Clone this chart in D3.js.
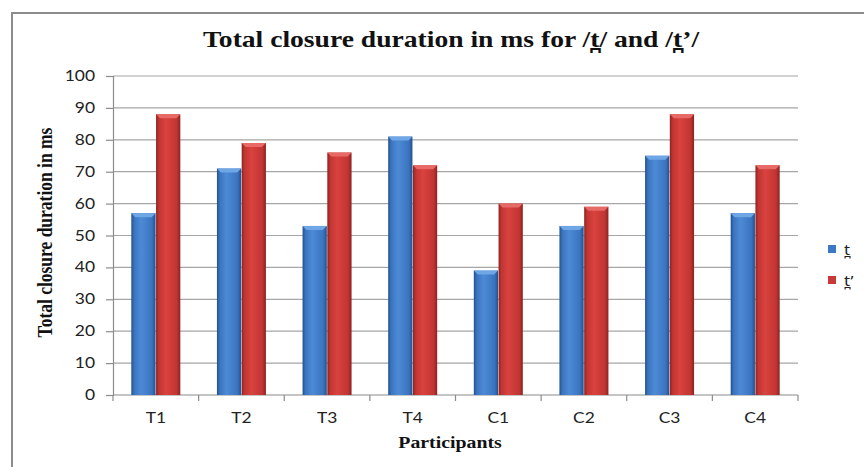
<!DOCTYPE html>
<html>
<head>
<meta charset="utf-8">
<script src="https://cdn.jsdelivr.net/npm/d3@7"></script>
<style>
  html, body { margin: 0; padding: 0; background: #fff; }
  svg { display: block; }
</style>
</head>
<body>
<svg id="chart" width="864" height="467"></svg>
<script>
// Participants and total closure durations (ms)
const participants = ["T1", "T2", "T3", "T4", "C1", "C2", "C3", "C4"];
const seriesNames = ["t\u032A", "t\u032A\u2019"];
const plainT = [57, 71, 53, 81, 39, 53, 75, 57];
const ejectiveT = [88, 79, 76, 72, 60, 59, 88, 72];
const yTicks = [0, 10, 20, 30, 40, 50, 60, 70, 80, 90, 100];

const svg = d3.select("#chart");
const W = 864, H = 467;
const plot = { left: 113, right: 798, top: 76, bottom: 395 };
const tickFont = "Lato, 'Open Sans', 'Liberation Sans', sans-serif";
const legendFont = "'Noto Sans', 'DejaVu Sans', sans-serif";
const serif = "'Liberation Serif', 'DejaVu Serif', serif";
const SX = 1.2; // text is drawn slightly wide

// Places a text at (x, y) stretched horizontally
function wideText(sel, x, y) {
  return sel.attr("transform", `translate(${x},${y}) scale(${SX},1)`).attr("x", 0).attr("y", 0);
}

// Gradients give the bars their bevelled look
const defs = svg.append("defs");
function barGradient(id, light, mid, dark) {
  const g = defs.append("linearGradient").attr("id", id)
    .attr("x1", "0%").attr("x2", "100%").attr("y1", "0%").attr("y2", "0%");
  g.append("stop").attr("offset", "0%").attr("stop-color", dark);
  g.append("stop").attr("offset", "12%").attr("stop-color", mid);
  g.append("stop").attr("offset", "40%").attr("stop-color", light);
  g.append("stop").attr("offset", "85%").attr("stop-color", mid);
  g.append("stop").attr("offset", "100%").attr("stop-color", dark);
}
barGradient("gBlue", "#4d8ad6", "#3a74bf", "#24508e");
barGradient("gRed", "#d9423f", "#c13532", "#8c2321");
const fills = ["url(#gBlue)", "url(#gRed)"];
const capFills = ["#6ea6e6", "#e86a66"];
const legendFills = ["#3b78c6", "#c83a37"];

// Outer frame
svg.append("path")
  .attr("d", `M12,${H} L12,13 L${W},13`)
  .attr("fill", "none").attr("stroke", "#8c8c8c").attr("stroke-width", 2);

// Scales
const x0 = d3.scaleBand().domain(participants).range([plot.left, plot.right]).paddingInner(0).paddingOuter(0);
const x1 = d3.scaleBand().domain([0, 1]).range([0, x0.bandwidth()]).paddingInner(0.02).paddingOuter(0.74);
const y = d3.scaleLinear().domain([0, 100]).range([plot.bottom, plot.top]);

// Horizontal gridlines
svg.append("g").selectAll("line").data(yTicks.filter(d => d > 0)).join("line")
  .attr("x1", plot.left).attr("x2", plot.right)
  .attr("y1", d => y(d)).attr("y2", d => y(d))
  .attr("stroke", "#a6a6a6").attr("stroke-width", 1.2);

// Y axis
const yAxis = svg.append("g").attr("transform", `translate(${plot.left},0)`)
  .call(d3.axisLeft(y).tickValues(yTicks).tickSize(7).tickFormat(""));
yAxis.select(".domain").attr("stroke", "#8c8c8c").attr("stroke-width", 1.2);
yAxis.selectAll(".tick line").attr("stroke", "#8c8c8c").attr("stroke-width", 1.2);
svg.append("g").selectAll("text").data(yTicks).join("text")
  .each(function (d) { wideText(d3.select(this), 95, y(d) + 5); })
  .attr("text-anchor", "end")
  .attr("font-family", tickFont).attr("font-size", 14.5).attr("fill", "#222")
  .text(d => d);

// X axis with ticks between categories
const xAxis = svg.append("g").attr("transform", `translate(0,${plot.bottom})`);
xAxis.append("line").attr("x1", plot.left).attr("x2", plot.right)
  .attr("stroke", "#8c8c8c").attr("stroke-width", 1.2);
const bounds = participants.map(p => x0(p)).concat([plot.right]);
xAxis.selectAll("line.tk").data(bounds).join("line").attr("class", "tk")
  .attr("x1", d => d).attr("x2", d => d).attr("y1", 0).attr("y2", 6)
  .attr("stroke", "#8c8c8c").attr("stroke-width", 1.2);
xAxis.selectAll("text").data(participants).join("text")
  .each(function (d) { wideText(d3.select(this), x0(d) + x0.bandwidth() / 2, 28); })
  .attr("text-anchor", "middle")
  .attr("font-family", tickFont).attr("font-size", 14.5).attr("fill", "#222")
  .text(d => d);

// Bars
const rows = participants.map((p, i) => ({ p, vals: [plainT[i], ejectiveT[i]] }));
const groups = svg.append("g").selectAll("g").data(rows).join("g")
  .attr("transform", d => `translate(${x0(d.p)},0)`);
groups.each(function (d) {
  const g = d3.select(this);
  d.vals.forEach((v, s) => {
    const bx = x1(s), bw = x1.bandwidth(), top = y(v);
    g.append("rect").attr("x", bx).attr("y", top).attr("width", bw)
      .attr("height", plot.bottom - top).attr("fill", fills[s]);
    // bevelled top edge
    g.append("path")
      .attr("d", `M${bx},${top} L${bx + bw},${top} L${bx + bw - 4},${top + 4} L${bx + 4},${top + 4} Z`)
      .attr("fill", capFills[s]);
  });
});

// Title
wideText(svg.append("text"), 451, 47).attr("text-anchor", "middle")
  .attr("font-family", serif).attr("font-weight", "bold").attr("font-size", 23)
  .attr("fill", "#111")
  .text("Total closure duration in ms for /t\u032A/ and /t\u032A\u2019/");

// Axis titles
svg.append("text")
  .attr("transform", `translate(52,${(plot.top + plot.bottom) / 2 - 3}) scale(${SX},1) rotate(-90)`)
  .attr("text-anchor", "middle")
  .attr("font-family", serif).attr("font-weight", "bold").attr("font-size", 17.5)
  .attr("fill", "#111").text("Total closure duration in ms");
wideText(svg.append("text"), 450, 448).attr("text-anchor", "middle")
  .attr("font-family", serif).attr("font-weight", "bold").attr("font-size", 16.5)
  .attr("fill", "#111").text("Participants");

// Legend
const legend = svg.append("g").selectAll("g").data(seriesNames).join("g")
  .attr("transform", (d, i) => `translate(828,${245 + i * 31})`);
legend.append("rect").attr("width", 8).attr("height", 8)
  .attr("fill", (d, i) => legendFills[i]);
legend.append("text")
  .each(function () { wideText(d3.select(this), 16, 10); })
  .attr("font-family", legendFont).attr("font-size", 14).attr("fill", "#222")
  .text(d => d);
</script>
</body>
</html>
